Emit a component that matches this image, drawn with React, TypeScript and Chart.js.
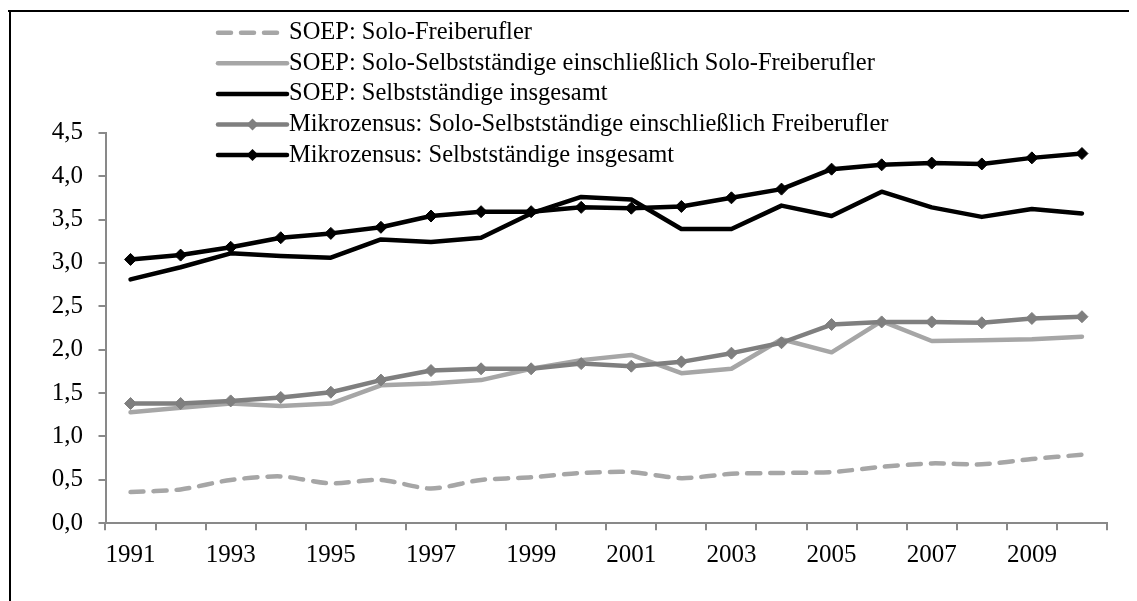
import React, { useEffect, useRef } from "react";
import { Chart, registerables } from "chart.js";

Chart.register(...registerables);

const years = ["1991","1992","1993","1994","1995","1996","1997","1998","1999","2000","2001","2002","2003","2004","2005","2006","2007","2008","2009","2010"];

const soepSoloFreiberufler = [0.36, 0.39, 0.50, 0.54, 0.46, 0.50, 0.40, 0.50, 0.53, 0.58, 0.59, 0.52, 0.57, 0.58, 0.59, 0.65, 0.69, 0.68, 0.74, 0.79];
const soepSoloSelbst = [1.28, 1.33, 1.38, 1.35, 1.38, 1.59, 1.61, 1.65, 1.78, 1.88, 1.94, 1.73, 1.78, 2.12, 1.97, 2.33, 2.10, 2.11, 2.12, 2.15];
const soepInsgesamt = [2.81, 2.95, 3.11, 3.08, 3.06, 3.27, 3.24, 3.29, 3.57, 3.76, 3.73, 3.39, 3.39, 3.66, 3.54, 3.82, 3.64, 3.53, 3.62, 3.57];
const mikroSolo = [1.38, 1.38, 1.41, 1.45, 1.51, 1.65, 1.76, 1.78, 1.78, 1.84, 1.81, 1.86, 1.96, 2.08, 2.29, 2.32, 2.32, 2.31, 2.36, 2.38];
const mikroInsgesamt = [3.04, 3.09, 3.18, 3.29, 3.34, 3.41, 3.54, 3.59, 3.59, 3.64, 3.63, 3.65, 3.75, 3.85, 4.08, 4.13, 4.15, 4.14, 4.21, 4.26];

const seriesLabels = [
  "SOEP: Solo-Freiberufler",
  "SOEP: Solo-Selbstständige einschließlich Solo-Freiberufler",
  "SOEP: Selbstständige insgesamt",
  "Mikrozensus: Solo-Selbstständige einschließlich Freiberufler",
  "Mikrozensus: Selbstständige insgesamt",
];

const FONT = "'Liberation Serif', 'Times New Roman', serif";
const W = 1129;
const H = 593;

const framePlugin = {
  id: "frame",
  beforeDraw(chart: any) {
    const ctx = chart.ctx;
    ctx.save();
    ctx.fillStyle = "#ffffff";
    ctx.fillRect(0, 0, chart.width, chart.height);
    ctx.fillStyle = "#000000";
    ctx.fillRect(0, 2, chart.width, 2);
    ctx.fillRect(1, 2, 2, chart.height);
    ctx.restore();
  },
};

const legendPlugin = {
  id: "customLegend",
  afterDraw(chart: any) {
    const ctx = chart.ctx;
    const x0 = 210;
    const x1 = 279;
    const textX = 281;
    const startY = 24.7;
    const step = 30.6;
    ctx.save();
    chart.data.datasets.forEach((ds: any, i: number) => {
      const y = startY + step * i;
      ctx.beginPath();
      ctx.strokeStyle = ds.borderColor;
      ctx.lineWidth = ds.borderWidth;
      ctx.lineCap = "round";
      ctx.setLineDash(ds.borderDash || []);
      ctx.moveTo(x0, y);
      ctx.lineTo(x1, y);
      ctx.stroke();
      ctx.setLineDash([]);
      if (ds.pointRadius > 0) {
        const cx = (x0 + x1) / 2;
        const r = ds.pointRadius;
        ctx.beginPath();
        ctx.fillStyle = ds.pointBackgroundColor;
        ctx.moveTo(cx, y - r);
        ctx.lineTo(cx + r, y);
        ctx.lineTo(cx, y + r);
        ctx.lineTo(cx - r, y);
        ctx.closePath();
        ctx.fill();
      }
      ctx.fillStyle = "#000000";
      ctx.font = `24.5px ${FONT}`;
      ctx.textBaseline = "middle";
      ctx.textAlign = "left";
      ctx.fillText(ds.label, textX, y);
    });
    ctx.restore();
  },
};

export default function App() {
  const ref = useRef<HTMLCanvasElement | null>(null);

  useEffect(() => {
    if (!ref.current) return;
    const lineBase = {
      borderCapStyle: "round" as const,
      borderJoinStyle: "round" as const,
      borderWidth: 4.5,
      fill: false,
    };
    const chart = new Chart(ref.current, {
      type: "line",
      data: {
        labels: years,
        datasets: [
          {
            ...lineBase,
            label: seriesLabels[0],
            data: soepSoloFreiberufler,
            borderColor: "#a6a6a6",
            backgroundColor: "#a6a6a6",
            borderDash: [13, 10],
            pointRadius: 0,
            tension: 0.25,
            order: 4,
          },
          {
            ...lineBase,
            label: seriesLabels[1],
            data: soepSoloSelbst,
            borderColor: "#a6a6a6",
            backgroundColor: "#a6a6a6",
            pointRadius: 0,
            order: 3,
          },
          {
            ...lineBase,
            label: seriesLabels[2],
            data: soepInsgesamt,
            borderColor: "#000000",
            backgroundColor: "#000000",
            pointRadius: 0,
            order: 2,
          },
          {
            ...lineBase,
            label: seriesLabels[3],
            data: mikroSolo,
            borderColor: "#7f7f7f",
            backgroundColor: "#7f7f7f",
            pointStyle: "rectRot",
            pointRadius: 6,
            pointBackgroundColor: "#7f7f7f",
            pointBorderColor: "#7f7f7f",
            pointBorderWidth: 1,
            order: 1,
          },
          {
            ...lineBase,
            label: seriesLabels[4],
            data: mikroInsgesamt,
            borderColor: "#000000",
            backgroundColor: "#000000",
            pointStyle: "rectRot",
            pointRadius: 6,
            pointBackgroundColor: "#000000",
            pointBorderColor: "#000000",
            pointBorderWidth: 1,
            order: 0,
          },
        ],
      },
      options: {
        responsive: false,
        animation: false,
        devicePixelRatio: 1,
        layout: { padding: { top: 124.7, right: 30, bottom: 0, left: 0 } },
        plugins: {
          legend: { display: false },
          tooltip: { enabled: false },
        },
        scales: {
          x: {
            type: "category",
            offset: true,
            grid: {
              offset: true,
              drawOnChartArea: false,
              drawTicks: true,
              tickLength: 7,
              color: "#898989",
              lineWidth: 2,
            },
            border: { display: true, color: "#898989", width: 2 },
            ticks: {
              autoSkip: false,
              maxRotation: 0,
              minRotation: 0,
              padding: 10,
              color: "#000000",
              font: { family: FONT, size: 25 },
              callback: (_v: any, i: number) => (i % 2 === 0 ? years[i] : ""),
            },
            afterFit: (scale: any) => {
              scale.height = H - 515.3;
            },
          },
          y: {
            min: 0,
            max: 4.5,
            grid: {
              drawOnChartArea: false,
              drawTicks: true,
              tickLength: 7,
              color: "#898989",
              lineWidth: 2,
            },
            border: { display: true, color: "#898989", width: 2 },
            ticks: {
              stepSize: 0.5,
              padding: 15.5,
              color: "#000000",
              font: { family: FONT, size: 25 },
              callback: (v: any) => Number(v).toFixed(1).replace(".", ","),
            },
            afterFit: (scale: any) => {
              scale.width = 97.5;
            },
          },
        },
      },
      plugins: [framePlugin, legendPlugin],
    });
    return () => chart.destroy();
  }, []);

  return (
    <div style={{ width: W, height: H }}>
      <canvas ref={ref} width={W} height={H} style={{ display: "block", width: W, height: H }} />
    </div>
  );
}
